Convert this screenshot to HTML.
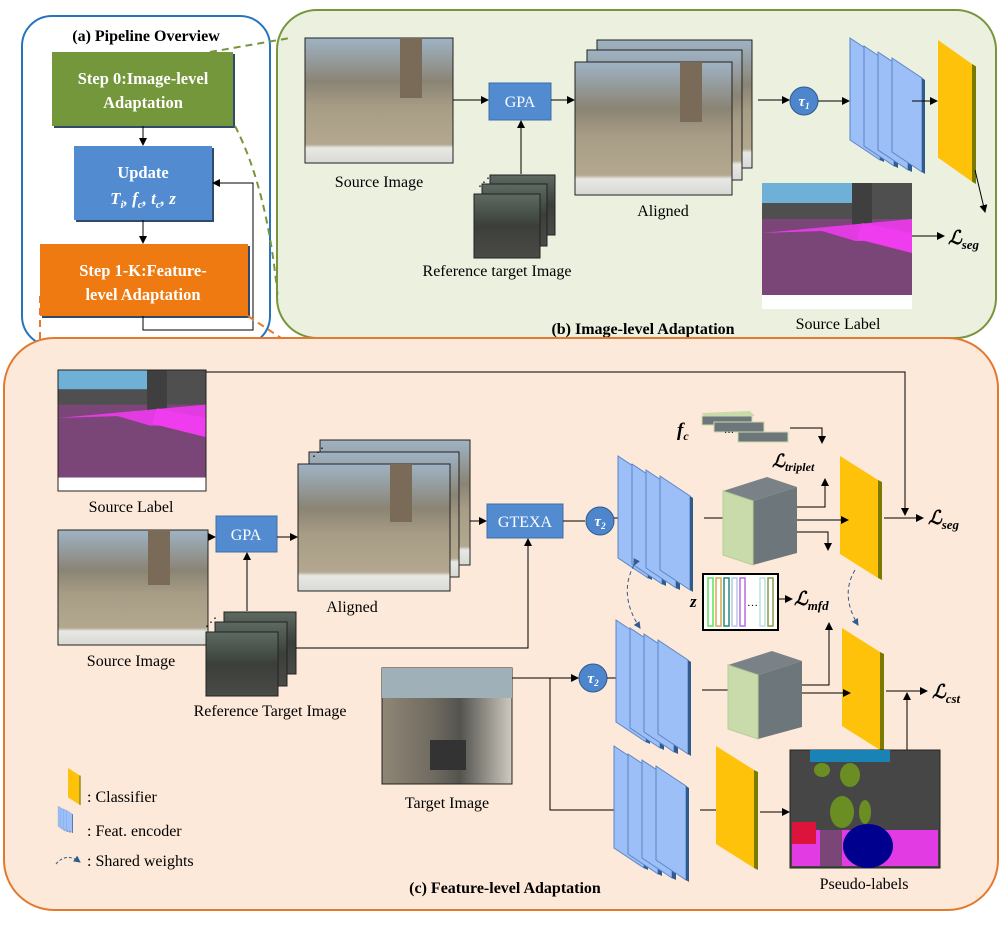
<!DOCTYPE html>
<html><head><meta charset="utf-8"><style>
html,body{margin:0;padding:0;background:#fff}
svg{display:block}
text{font-family:"Liberation Serif",serif}
</style></head><body>
<svg width="1004" height="925" viewBox="0 0 1004 925" xmlns="http://www.w3.org/2000/svg">
<defs>
<marker id="ar" markerWidth="8" markerHeight="8" refX="7" refY="4" orient="auto" markerUnits="userSpaceOnUse"><path d="M0,0 L8,4 L0,8 z" fill="#000"/></marker>
<marker id="ab" markerWidth="7" markerHeight="7" refX="6" refY="3.5" orient="auto" markerUnits="userSpaceOnUse"><path d="M0,0 L7,3.5 L0,7 z" fill="#2f5b8f"/></marker>
<linearGradient id="street" x1="0" y1="0" x2="0" y2="1">
<stop offset="0" stop-color="#9fb3c4"/><stop offset="0.35" stop-color="#8a8474"/><stop offset="0.55" stop-color="#a79c85"/><stop offset="0.85" stop-color="#b3a88f"/><stop offset="0.88" stop-color="#e8e8e4"/><stop offset="1" stop-color="#d8d8d4"/></linearGradient>
<linearGradient id="dark" x1="0" y1="0" x2="0" y2="1">
<stop offset="0" stop-color="#5d6a62"/><stop offset="0.5" stop-color="#3b3f3a"/><stop offset="1" stop-color="#4a4a46"/></linearGradient>
<linearGradient id="city" x1="0" y1="0" x2="1" y2="0">
<stop offset="0" stop-color="#8f8676"/><stop offset="0.4" stop-color="#6f6a60"/><stop offset="0.6" stop-color="#54534e"/><stop offset="1" stop-color="#cfcac0"/></linearGradient>
<g id="lab">
<rect width="150" height="126" fill="#7a4678"/>
<rect width="150" height="36" fill="#4f4f4f"/>
<rect x="0" y="0" width="90" height="20" fill="#6fb1d6"/>
<rect x="90" y="0" width="20" height="55" fill="#3f3f3f"/>
<polygon points="0,50 150,36 150,75 60,48" fill="#e23be2"/>
<polygon points="0,58 150,58 150,126 0,126" fill="#7a4678"/>
<polygon points="100,40 150,50 150,70 95,56" fill="#ee3cee"/>
<rect y="112" width="150" height="14" fill="#fff"/>
</g>
<g id="enc">
<polygon points="0,0 30,20 30,122 0,102" fill="#9dbff7" stroke="#5b86c6"/><polygon points="30,20 34,22 34,124 30,122" fill="#2f5b8f"/>
<polygon points="14,8 44,28 44,128 14,108" fill="#9dbff7" stroke="#5b86c6"/><polygon points="44,28 48,30 48,130 44,128" fill="#2f5b8f"/>
<polygon points="28,14 58,34 58,132 28,112" fill="#9dbff7" stroke="#5b86c6"/><polygon points="58,34 62,36 62,134 58,132" fill="#2f5b8f"/>
<polygon points="42,20 72,40 72,134 42,114" fill="#9dbff7" stroke="#5b86c6"/><polygon points="72,40 75,42 75,136 72,134" fill="#2f5b8f"/>
</g>
<g id="cls"><polygon points="0,0 38,24 38,122 0,98" fill="#fec20b"/><polygon points="38,24 42,26 42,124 38,122" fill="#7a7a00"/></g>
<g id="cube"><polygon points="0,14 44,0 74,10 30,24" fill="#7a8287"/><polygon points="0,14 30,24 30,88 0,78" fill="#c9dbaa"/><polygon points="30,24 74,10 74,76 30,88" fill="#6d767b"/><polygon points="0,14 30,24 30,88 0,78" fill="none" stroke="#b9cf95"/></g>
</defs>

<!-- (a) -->
<rect x="22" y="16" width="248" height="330" rx="30" fill="#fff" stroke="#2673c0" stroke-width="2"/>
<text x="146" y="41" font-size="16" font-weight="bold" text-anchor="middle">(a) Pipeline Overview</text>
<rect x="54" y="54" width="181" height="74" fill="#2f4a6a"/>
<rect x="52" y="52" width="181" height="74" fill="#73973a"/>
<text x="143" y="84" font-size="16.5" font-weight="bold" fill="#fff" text-anchor="middle">Step 0:Image-level</text>
<text x="143" y="108" font-size="16.5" font-weight="bold" fill="#fff" text-anchor="middle">Adaptation</text>
<line x1="143" y1="126" x2="143" y2="145" stroke="#000" marker-end="url(#ar)"/>
<rect x="76" y="148" width="138" height="74" fill="#2f4a6a"/>
<rect x="74" y="146" width="138" height="74" fill="#528bd0"/>
<text x="143" y="178" font-size="16.5" font-weight="bold" fill="#fff" text-anchor="middle">Update</text>
<text x="143" y="204" font-size="17" font-weight="bold" font-style="italic" fill="#fff" text-anchor="middle">T<tspan font-size="11" dy="4">i</tspan><tspan dy="-4">, f</tspan><tspan font-size="11" dy="4">c</tspan><tspan dy="-4">, t</tspan><tspan font-size="11" dy="4">c</tspan><tspan dy="-4">, z</tspan></text>
<line x1="143" y1="220" x2="143" y2="243" stroke="#000" marker-end="url(#ar)"/>
<rect x="42" y="246" width="208" height="72" fill="#2f4a6a"/>
<rect x="40" y="244" width="208" height="72" fill="#f07a12"/>
<text x="143" y="276" font-size="16.5" font-weight="bold" fill="#fff" text-anchor="middle">Step 1-K:Feature-</text>
<text x="143" y="300" font-size="16.5" font-weight="bold" fill="#fff" text-anchor="middle">level Adaptation</text>
<polyline points="143,316 143,330 253,330 253,183 213,183" fill="none" stroke="#000" marker-end="url(#ar)"/>

<!-- (b) -->
<rect x="277" y="10" width="719" height="328" rx="40" fill="#ebf0df" stroke="#76953c" stroke-width="2"/>
<path d="M210,52 L290,38" stroke="#76953c" stroke-width="2" stroke-dasharray="7,5" fill="none"/>
<path d="M235,126 Q268,190 278,300" stroke="#76953c" stroke-width="2" stroke-dasharray="7,5" fill="none"/>
<path d="M248,316 L284,340" stroke="#e3792e" stroke-width="2" stroke-dasharray="7,5" fill="none"/>
<path d="M40,296 L40,340" stroke="#e3792e" stroke-width="2" stroke-dasharray="7,5" fill="none"/>
<rect x="305" y="38" width="148" height="125" fill="url(#street)" stroke="#222"/>
<rect x="400" y="38" width="22" height="60" fill="#7a6a58"/>
<text x="379" y="187" font-size="16" text-anchor="middle">Source Image</text>
<line x1="453" y1="100" x2="488" y2="100" stroke="#000" marker-end="url(#ar)"/>
<rect x="489" y="83" width="62" height="37" fill="#528bd0" stroke="#3f6ea8"/>
<text x="520" y="107" font-size="16" fill="#fff" text-anchor="middle">GPA</text>
<rect x="490" y="175" width="65" height="60" fill="url(#dark)" stroke="#222"/>
<rect x="482" y="184" width="65" height="62" fill="url(#dark)" stroke="#222"/>
<rect x="474" y="194" width="66" height="64" fill="url(#dark)" stroke="#222"/>
<text x="478" y="186" font-size="12">⋰</text>
<line x1="521" y1="174" x2="521" y2="121" stroke="#000" marker-end="url(#ar)"/>
<text x="497" y="276" font-size="16" text-anchor="middle">Reference target Image</text>
<line x1="551" y1="100" x2="574" y2="100" stroke="#000" marker-end="url(#ar)"/>
<rect x="597" y="40" width="155" height="128" fill="url(#street)" stroke="#222"/>
<rect x="587" y="50" width="155" height="130" fill="url(#street)" stroke="#222"/>
<rect x="575" y="62" width="157" height="133" fill="url(#street)" stroke="#222"/>
<rect x="680" y="62" width="22" height="60" fill="#7a6a58"/>
<text x="663" y="216" font-size="16" text-anchor="middle">Aligned</text>
<line x1="758" y1="100" x2="789" y2="100" stroke="#000" marker-end="url(#ar)"/>
<circle cx="804" cy="101" r="14" fill="#4d86cc" stroke="#2f5b8f"/>
<text x="804" y="106" font-size="15" font-style="italic" font-weight="bold" fill="#fff" text-anchor="middle">τ<tspan font-size="9" dy="3">1</tspan></text>
<line x1="818" y1="101" x2="849" y2="101" stroke="#000" marker-end="url(#ar)"/>
<use href="#enc" x="850" y="38"/>
<line x1="912" y1="101" x2="937" y2="101" stroke="#000" marker-end="url(#ar)"/>
<g transform="translate(938,40) scale(1,1.2)"><polygon points="0,0 34,20 34,118 0,98" fill="#fec20b"/><polygon points="34,20 38,22 38,120 34,118" fill="#7a7a00"/></g>
<line x1="975" y1="170" x2="985" y2="212" stroke="#000" marker-end="url(#ar)"/>
<use href="#lab" x="762" y="183"/>
<text x="948" y="244" font-size="19" font-style="italic" font-weight="bold">ℒ<tspan font-size="13" dy="5">seg</tspan></text>
<line x1="912" y1="236" x2="944" y2="236" stroke="#000" marker-end="url(#ar)"/>
<text x="838" y="329" font-size="16" text-anchor="middle">Source Label</text>
<text x="643" y="334" font-size="16" font-weight="bold" text-anchor="middle">(b) Image-level Adaptation</text>

<!-- (c) -->
<rect x="4" y="338" width="994" height="572" rx="50" fill="#fce9d9" stroke="#e3792e" stroke-width="2"/>
<g transform="translate(58,370) scale(0.99,0.96)"><use href="#lab"/></g>
<rect x="58" y="370" width="148" height="121" fill="none" stroke="#222"/>
<text x="131" y="512" font-size="16" text-anchor="middle">Source Label</text>
<polyline points="206,372 905,372 905,515" fill="none" stroke="#000" marker-end="url(#ar)"/>
<rect x="58" y="530" width="150" height="115" fill="url(#street)" stroke="#222"/>
<rect x="148" y="530" width="22" height="55" fill="#7a6a58"/>
<text x="131" y="666" font-size="16" text-anchor="middle">Source Image</text>
<line x1="208" y1="537" x2="215" y2="537" stroke="#000" marker-end="url(#ar)"/>
<rect x="216" y="516" width="61" height="36" fill="#528bd0" stroke="#3f6ea8"/>
<text x="246" y="540" font-size="16" fill="#fff" text-anchor="middle">GPA</text>
<line x1="277" y1="537" x2="297" y2="537" stroke="#000" marker-end="url(#ar)"/>
<rect x="224" y="612" width="72" height="62" fill="url(#dark)" stroke="#222"/>
<rect x="215" y="622" width="72" height="64" fill="url(#dark)" stroke="#222"/>
<rect x="206" y="632" width="72" height="64" fill="url(#dark)" stroke="#222"/>
<text x="205" y="626" font-size="12">⋰</text>
<line x1="247" y1="611" x2="247" y2="553" stroke="#000" marker-end="url(#ar)"/>
<text x="270" y="716" font-size="16" text-anchor="middle">Reference Target Image</text>
<polyline points="296,648 528,648 528,539" fill="none" stroke="#000" marker-end="url(#ar)"/>
<rect x="320" y="440" width="150" height="125" fill="url(#street)" stroke="#222"/>
<rect x="309" y="452" width="150" height="125" fill="url(#street)" stroke="#222"/>
<rect x="298" y="464" width="152" height="127" fill="url(#street)" stroke="#222"/>
<rect x="390" y="464" width="22" height="58" fill="#7a6a58"/>
<text x="312" y="456" font-size="12">⋰</text>
<text x="352" y="612" font-size="16" text-anchor="middle">Aligned</text>
<line x1="470" y1="521" x2="486" y2="521" stroke="#000" marker-end="url(#ar)"/>
<rect x="487" y="504" width="76" height="34" fill="#528bd0" stroke="#3f6ea8"/>
<text x="525" y="527" font-size="16" fill="#fff" text-anchor="middle">GTEXA</text>
<circle cx="600" cy="521" r="14" fill="#4d86cc" stroke="#2f5b8f"/>
<text x="600" y="526" font-size="15" font-style="italic" font-weight="bold" fill="#fff" text-anchor="middle">τ<tspan font-size="9" dy="3">2</tspan></text>
<line x1="563" y1="521" x2="585" y2="521" stroke="#000"/>
<line x1="614" y1="518" x2="632" y2="518" stroke="#000" marker-end="url(#ar)"/>
<use href="#enc" x="618" y="456"/>
<line x1="704" y1="518" x2="735" y2="518" stroke="#000" marker-end="url(#ar)"/>
<use href="#cube" x="723" y="477"/>
<use href="#cls" x="840" y="456"/>
<line x1="797" y1="520" x2="848" y2="520" stroke="#000" marker-end="url(#ar)"/>
<polyline points="797,507 825,507 825,479" fill="none" stroke="#000" marker-end="url(#ar)"/>
<polyline points="797,532 828,532 828,550" fill="none" stroke="#000" marker-end="url(#ar)"/>
<line x1="884" y1="518" x2="923" y2="518" stroke="#000" marker-end="url(#ar)"/>
<text x="928" y="524" font-size="19" font-style="italic" font-weight="bold">ℒ<tspan font-size="13" dy="5">seg</tspan></text>
<text x="677" y="436" font-size="19" font-style="italic" font-weight="bold">f<tspan font-size="12" dy="4">c</tspan></text>
<polygon points="702,413 750,411 755,416 706,419" fill="#c9dbaa"/><rect x="702" y="416" width="50" height="9" fill="#6d767b" stroke="#c9dbaa"/>
<rect x="714" y="422" width="50" height="10" fill="#6d767b" stroke="#c9dbaa"/>
<rect x="738" y="432" width="50" height="10" fill="#6d767b" stroke="#c9dbaa"/>
<text x="724" y="433" font-size="10" fill="#000">…</text>
<polyline points="790,428 822,428 822,443" fill="none" stroke="#000" marker-end="url(#ar)"/>
<text x="772" y="467" font-size="18" font-style="italic" font-weight="bold">ℒ<tspan font-size="12" dy="4">triplet</tspan></text>
<text x="690" y="607" font-size="17" font-style="italic" font-weight="bold">z</text>
<rect x="703" y="574" width="75" height="56" fill="#fff" stroke="#000" stroke-width="2"/>
<g fill="none" stroke-width="1.5"><rect x="708" y="578" width="5" height="48" stroke="#5ee05e"/><rect x="716" y="578" width="5" height="48" stroke="#d9a94a"/><rect x="724" y="578" width="5" height="48" stroke="#258a7a"/><rect x="732" y="578" width="5" height="48" stroke="#b8c8e8"/><rect x="740" y="578" width="5" height="48" stroke="#b46ee8"/><rect x="760" y="578" width="5" height="48" stroke="#b8e0e8"/><rect x="768" y="578" width="5" height="48" stroke="#8a9a4a"/></g>
<text x="747" y="606" font-size="11">…</text>
<line x1="778" y1="599" x2="792" y2="599" stroke="#000" marker-end="url(#ar)"/>
<text x="794" y="605" font-size="19" font-style="italic" font-weight="bold">ℒ<tspan font-size="13" dy="5">mfd</tspan></text>
<path d="M634,565 Q618,595 640,628" fill="none" stroke="#2f5b8f" stroke-dasharray="4,3" marker-end="url(#ab)" marker-start="url(#ab)"/>
<path d="M855,570 Q840,595 858,625" fill="none" stroke="#2f5b8f" stroke-dasharray="4,3" marker-end="url(#ab)"/>
<circle cx="593" cy="678" r="14" fill="#4d86cc" stroke="#2f5b8f"/>
<text x="593" y="683" font-size="15" font-style="italic" font-weight="bold" fill="#fff" text-anchor="middle">τ<tspan font-size="9" dy="3">2</tspan></text>
<polyline points="512,678 550,678" fill="none" stroke="#000"/>
<line x1="550" y1="678" x2="578" y2="678" stroke="#000" marker-end="url(#ar)"/>
<polyline points="550,678 550,810 628,810" fill="none" stroke="#000" marker-end="url(#ar)"/>
<line x1="607" y1="678" x2="632" y2="678" stroke="#000" marker-end="url(#ar)"/>
<use href="#enc" x="616" y="620"/>
<line x1="702" y1="690" x2="741" y2="690" stroke="#000" marker-end="url(#ar)"/>
<use href="#cube" x="728" y="651"/>
<use href="#cls" x="842" y="628"/>
<polyline points="802,685 829,685 829,623" fill="none" stroke="#000" marker-end="url(#ar)"/>
<line x1="802" y1="693" x2="850" y2="693" stroke="#000" marker-end="url(#ar)"/>
<line x1="886" y1="691" x2="927" y2="691" stroke="#000" marker-end="url(#ar)"/>
<text x="932" y="698" font-size="19" font-style="italic" font-weight="bold">ℒ<tspan font-size="13" dy="5">cst</tspan></text>
<line x1="907" y1="750" x2="907" y2="693" stroke="#000" marker-end="url(#ar)"/>
<rect x="382" y="668" width="130" height="116" fill="url(#city)" stroke="#222"/>
<rect x="382" y="668" width="130" height="30" fill="#9fb0b8"/>
<rect x="430" y="740" width="36" height="30" fill="#333"/>
<text x="447" y="808" font-size="16" text-anchor="middle">Target Image</text>
<use href="#enc" x="614" y="746"/>
<line x1="700" y1="810" x2="724" y2="810" stroke="#000"/>
<use href="#cls" x="716" y="746"/>
<line x1="760" y1="812" x2="789" y2="812" stroke="#000" marker-end="url(#ar)"/>
<rect x="790" y="750" width="150" height="118" fill="#464646" stroke="#222"/>
<rect x="810" y="750" width="80" height="12" fill="#1a83b5"/>
<ellipse cx="822" cy="770" rx="8" ry="7" fill="#6b8e23"/><ellipse cx="850" cy="775" rx="10" ry="12" fill="#6b8e23"/>
<ellipse cx="842" cy="812" rx="12" ry="16" fill="#6b8e23"/><ellipse cx="865" cy="812" rx="6" ry="12" fill="#6b8e23"/>
<rect x="792" y="830" width="146" height="36" fill="#e33be3"/>
<rect x="792" y="822" width="24" height="22" fill="#dc143c"/>
<rect x="820" y="830" width="22" height="36" fill="#7a4678"/>
<ellipse cx="868" cy="846" rx="25" ry="22" fill="#00008e"/>
<text x="864" y="889" font-size="16" text-anchor="middle">Pseudo-labels</text>
<g transform="translate(68,768) scale(0.3,0.3)"><use href="#cls"/></g>
<text x="87" y="802" font-size="16">: Classifier</text>
<g transform="translate(58,806) scale(0.2,0.2)"><use href="#enc"/></g>
<text x="87" y="836" font-size="16">: Feat. encoder</text>
<path d="M56,864 Q66,852 80,862" fill="none" stroke="#2f5b8f" stroke-dasharray="3,2" marker-end="url(#ab)"/>
<text x="87" y="866" font-size="16">: Shared weights</text>
<text x="505" y="893" font-size="16" font-weight="bold" text-anchor="middle">(c) Feature-level Adaptation</text>
</svg>
</body></html>
